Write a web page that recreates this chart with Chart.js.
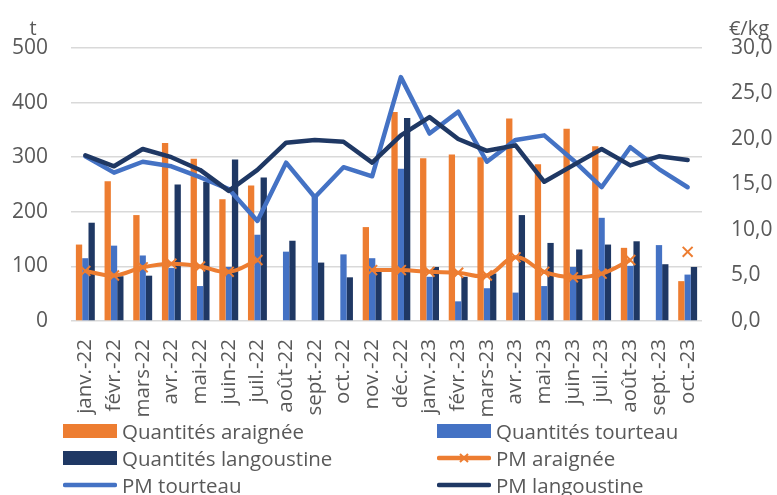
<!DOCTYPE html>
<html lang="fr">
<head>
<meta charset="utf-8">
<script src="https://cdn.jsdelivr.net/npm/chart.js@4/dist/chart.umd.min.js"></script>
<style>
    html, body { margin: 0; padding: 0; background: #fff; }
    #wrap { position: relative; width: 777px; height: 495px; font-family: "Open Sans", sans-serif; }
    #chart { position: absolute; left: 0; top: 0; }
    .legend-item { position: absolute; display: flex; align-items: center; height: 26px; color: #595959; font-size: 20.5px; white-space: nowrap; }
    .legend-item svg { margin-right: 5px; }
</style>
</head>
<body>
<div id="wrap">
    <canvas id="chart" width="777" height="495"></canvas>
    <div id="legend"></div>
</div>
<script>
const months = [
    'janv.-22', 'févr.-22', 'mars-22', 'avr.-22', 'mai-22', 'juin-22', 'juil.-22', 'août-22',
    'sept.-22', 'oct.-22', 'nov.-22', 'déc.-22', 'janv.-23', 'févr.-23', 'mars-23', 'avr.-23',
    'mai-23', 'juin-23', 'juil.-23', 'août-23', 'sept.-23', 'oct.-23',
];

// quantités en tonnes
const qtyAraignee = [140, 256, 194, 326, 297, 223, 248, null, null, null, 172, 383, 298, 305, 300, 371, 287, 352, 320, 134, null, 73];
const qtyTourteau = [115, 138, 120, 97, 64, 99, 158, 127, 228, 122, 115, 279, 81, 36, 60, 52, 64, 99, 189, 101, 139, 85];
const qtyLangoustine = [180, 82, 83, 250, 255, 296, 263, 147, 107, 80, 90, 372, 99, 81, 87, 194, 143, 131, 140, 146, 104, 99];

// prix moyens en €/kg
const pmAraignee = [5.5, 5.0, 5.9, 6.3, 6.0, 5.4, 6.7, null, null, null, 5.6, 5.6, 5.4, 5.3, 5.0, 7.0, 5.4, 4.8, 5.2, 6.7, null, 7.6];
const pmTourteau = [18.1, 16.3, 17.5, 17.0, 15.8, 14.5, 11.0, 17.4, 13.6, 16.9, 15.9, 26.8, 20.6, 23.0, 17.5, 19.9, 20.4, 17.7, 14.7, 19.1, 16.7, 14.7];
const pmLangoustine = [18.2, 17.0, 18.9, 18.0, 16.6, 14.3, 16.6, 19.6, 19.9, 19.7, 17.4, 20.4, 22.4, 20.0, 18.7, 19.3, 15.3, 17.1, 18.9, 17.1, 18.1, 17.7];

const leftTicks = [0, 100, 200, 300, 400, 500];
const rightTicks = [0, 5, 10, 15, 20, 25, 30];

const ORANGE = '#ED7D31';
const BLUE = '#4472C4';
const NAVY = '#1F3864';
const GREY = '#595959';
const GRID = '#D9D9D9';
const FONT = '"Open Sans", sans-serif';

const axisTitles = {
    id: 'axisTitles',
    afterDraw(chart) {
        const { ctx, chartArea } = chart;
        ctx.save();
        ctx.fillStyle = GREY;
        ctx.font = '20px ' + FONT;
        ctx.textAlign = 'center';
        ctx.textBaseline = 'bottom';
        ctx.fillText('t', chartArea.left - 38, chartArea.top - 9);
        ctx.fillText('€/kg', chartArea.right + 47, chartArea.top - 9);
        ctx.restore();
    },
};

const fmtPrice = (v) => v.toFixed(1).replace('.', ',');

const chart = new Chart(document.getElementById('chart'), {
    data: {
        labels: months,
        datasets: [
            { type: 'bar', label: 'Quantités araignée', data: qtyAraignee, backgroundColor: ORANGE, yAxisID: 'y', order: 3 },
            { type: 'bar', label: 'Quantités tourteau', data: qtyTourteau, backgroundColor: BLUE, yAxisID: 'y', order: 3 },
            { type: 'bar', label: 'Quantités langoustine', data: qtyLangoustine, backgroundColor: NAVY, yAxisID: 'y', order: 3 },
            {
                type: 'line', label: 'PM araignée', data: pmAraignee, yAxisID: 'y1', order: 0,
                borderColor: ORANGE, borderWidth: 4, tension: 0.4,
                pointStyle: 'crossRot', pointRadius: 7, pointBorderWidth: 2, pointBorderColor: ORANGE,
            },
            {
                type: 'line', label: 'PM tourteau', data: pmTourteau, yAxisID: 'y1', order: 2,
                borderColor: BLUE, borderWidth: 4.5, pointRadius: 0, borderJoinStyle: 'round', borderCapStyle: 'round',
            },
            {
                type: 'line', label: 'PM langoustine', data: pmLangoustine, yAxisID: 'y1', order: 1,
                borderColor: NAVY, borderWidth: 4.5, pointRadius: 0, borderJoinStyle: 'round', borderCapStyle: 'round',
            },
        ],
    },
    options: {
        responsive: false,
        animation: false,
        layout: { padding: { top: 48, left: 0, right: 0, bottom: 0 } },
        datasets: { bar: { categoryPercentage: 0.66, barPercentage: 1.0 } },
        plugins: { legend: { display: false }, tooltip: { enabled: false } },
        scales: {
            x: {
                grid: { display: false },
                border: { display: false },
                ticks: { color: GREY, font: { family: FONT, size: 20.5 }, minRotation: 90, maxRotation: 90, autoSkip: false, padding: 10 },
                afterFit(scale) { scale.height = 174; },
            },
            y: {
                position: 'left',
                min: 0, max: 500,
                afterBuildTicks(scale) { scale.ticks = leftTicks.map((value) => ({ value })); },
                grid: { color: GRID, lineWidth: 1.5, drawTicks: false },
                border: { display: false },
                ticks: { color: GREY, font: { family: FONT, size: 21 }, padding: 23 },
                afterFit(scale) { scale.width = 71; },
            },
            y1: {
                position: 'right',
                min: 0, max: 30,
                afterBuildTicks(scale) { scale.ticks = rightTicks.map((value) => ({ value })); },
                grid: { display: false, drawTicks: false },
                border: { display: false },
                ticks: { color: GREY, font: { family: FONT, size: 21 }, padding: 29, callback: (v) => fmtPrice(v) },
                afterFit(scale) { scale.width = 75; },
            },
        },
    },
    plugins: [axisTitles],
});

// légende en deux colonnes, comme dans le tableur
const legendRows = [
    { label: 'Quantités araignée', color: ORANGE, kind: 'box', x: 63, y: 418 },
    { label: 'Quantités tourteau', color: BLUE, kind: 'box', x: 437, y: 418 },
    { label: 'Quantités langoustine', color: NAVY, kind: 'box', x: 63, y: 445 },
    { label: 'PM araignée', color: ORANGE, kind: 'marker', x: 437, y: 445 },
    { label: 'PM tourteau', color: BLUE, kind: 'line', x: 63, y: 472 },
    { label: 'PM langoustine', color: NAVY, kind: 'line', x: 437, y: 472 },
];

function swatch(kind, color) {
    if (kind === 'box') {
        return `<svg width="54" height="14"><rect x="0" y="0" width="54" height="14" fill="${color}"/></svg>`;
    }
    const cross = kind === 'marker'
        ? `<path d="M23 3 L31 11 M31 3 L23 11" stroke="${color}" stroke-width="2"/>`
        : '';
    return `<svg width="54" height="14"><line x1="2" y1="7" x2="52" y2="7" stroke="${color}" stroke-width="4.5" stroke-linecap="round"/>${cross}</svg>`;
}

document.getElementById('legend').innerHTML = legendRows.map((item) =>
    `<div class="legend-item" style="left:${item.x}px;top:${item.y}px">${swatch(item.kind, item.color)}<span>${item.label}</span></div>`
).join('');
</script>
</body>
</html>
